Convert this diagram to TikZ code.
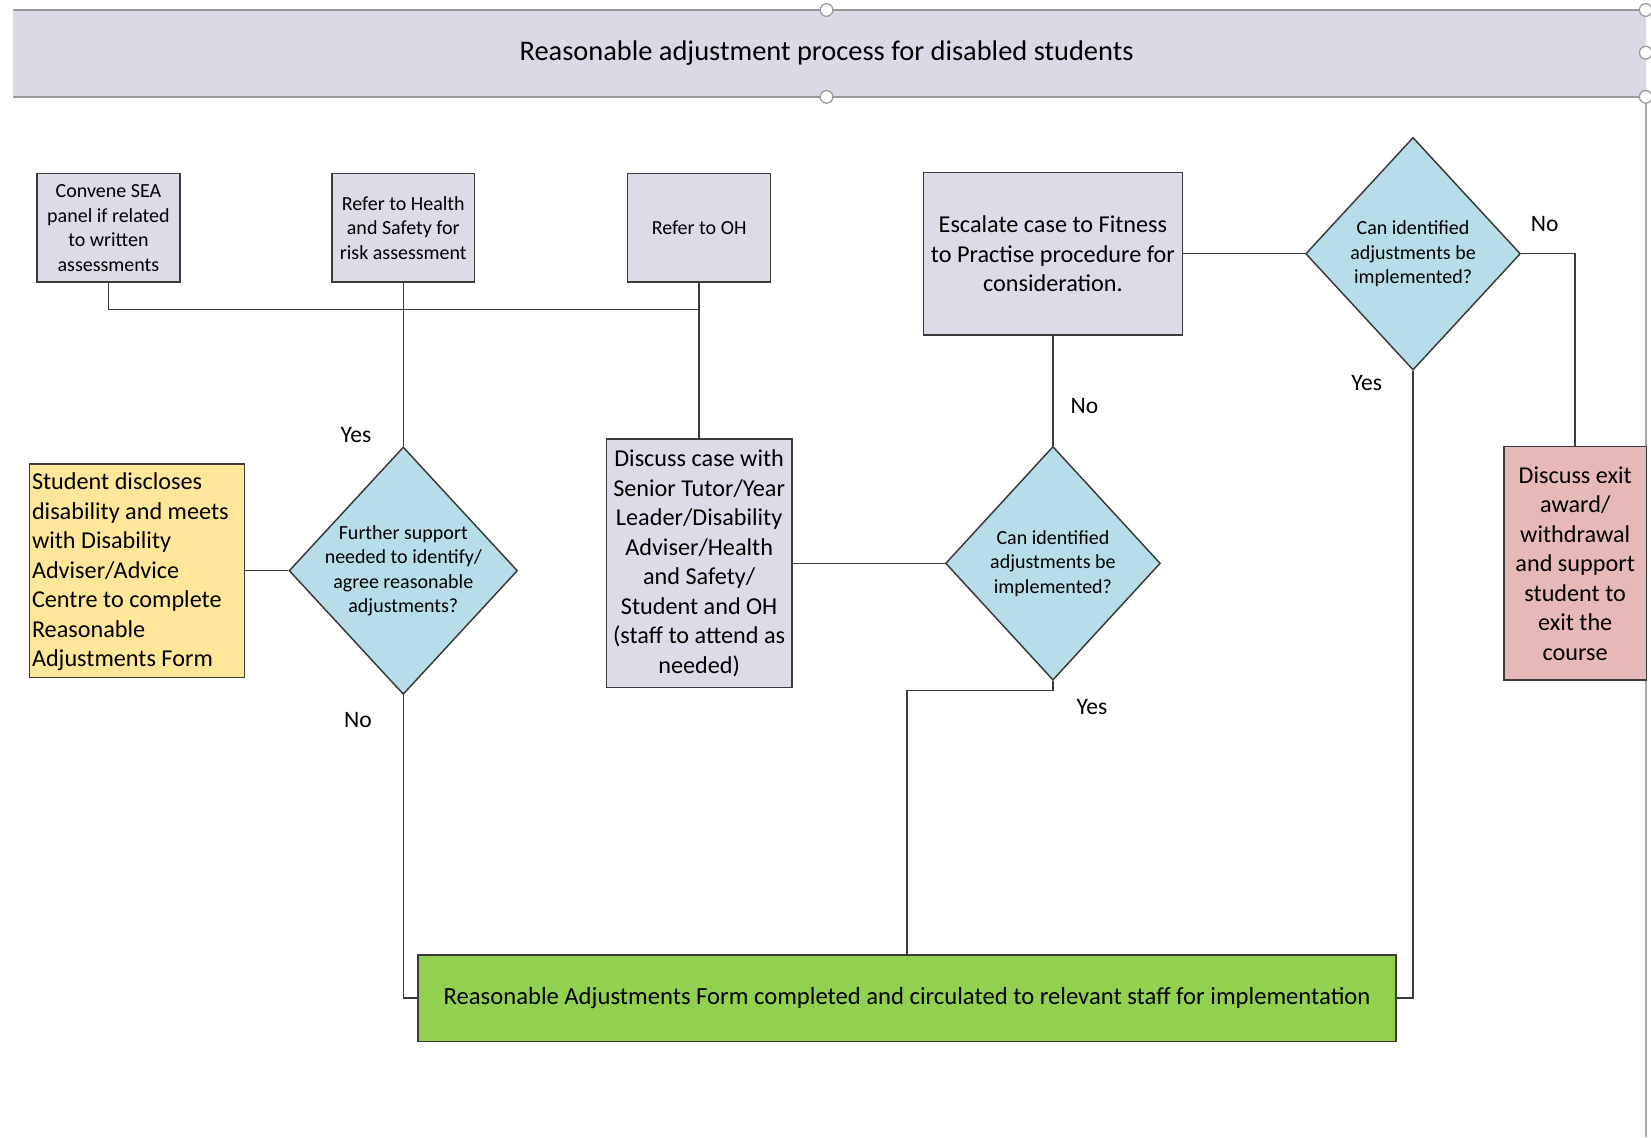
\documentclass[tikz,border=0pt]{standalone}
\usepackage{fontspec}
\setmainfont{Carlito}
\usetikzlibrary{shapes.geometric}
\definecolor{lav}{HTML}{DFDAE8}
\definecolor{hdr}{HTML}{DDD8E6}
\definecolor{aqua}{HTML}{B7DDE8}
\definecolor{pinkbox}{HTML}{E6B8B7}
\definecolor{yel}{HTML}{FFE699}
\definecolor{grn}{HTML}{92D050}
\definecolor{ln}{HTML}{3A3A3A}
\tikzset{
  box/.style={draw=ln, line width=0.7pt, rectangle, inner sep=0pt},
  dia/.style={draw=ln, line width=0.7pt, diamond, fill=aqua, inner sep=0pt},
  smalltxt/.style={align=center, font=\fontsize{9.5}{11.6}\selectfont, inner sep=0pt},
  normtxt/.style={align=center, font=\fontsize{11.5}{14}\selectfont, inner sep=0pt},
  lbl/.style={font=\fontsize{11.2}{13}\selectfont, inner sep=0pt},
  conn/.style={draw=ln, line width=0.7pt},
}
\begin{document}
\begin{tikzpicture}[x=0.5pt,y=-0.5pt]
\useasboundingbox (0,0) rectangle (1568,1080);
% header
\fill[hdr] (12.5,9.5) rectangle (1563,92);
\draw[gray!80, line width=0.9pt] (12.5,9.5) -- (1563,9.5);
\draw[gray!80, line width=0.9pt] (12.5,92) -- (1563,92);
\draw[gray!70, line width=0.8pt] (1563,92) -- (1563,1080);
\node[font=\fontsize{13.5}{16}\selectfont, inner sep=0pt] (title) at (785,50) {Reasonable adjustment process for disabled students};
\foreach \p in {(785,9.5),(785,92),(1563,9.5),(1563,50),(1563,92)}
  \draw[gray!80, fill=white, line width=0.6pt] \p circle (6);

% top boxes
\node[box, fill=lav, minimum width=68pt, minimum height=51.5pt] (convene) at (103,216.5) {};
\node[smalltxt] (conveneT) at (convene) {Convene SEA\\panel if related\\to written\\assessments};
\node[box, fill=lav, minimum width=67.5pt, minimum height=51.5pt] (hs) at (383,216.5) {};
\node[smalltxt] (hsT) at (hs) {Refer to Health\\and Safety for\\risk assessment};
\node[box, fill=lav, minimum width=68pt, minimum height=51.5pt] (oh) at (664,216.5) {};
\node[smalltxt] (ohT) at (oh) {Refer to OH};

\node[box, fill=lav, minimum width=123pt, minimum height=77pt] (esc) at (1000,241) {};
\node[normtxt] (escT) at (esc) {Escalate case to Fitness\\to Practise procedure for\\consideration.};

\node[dia, minimum width=102pt, minimum height=110.5pt] (dR) at (1342,241) {};
\node[smalltxt] (dRT) at (dR) {Can identified\\adjustments be\\implemented?};

\node[box, fill=pinkbox, minimum width=67.5pt, minimum height=111pt] (pink) at (1496,535) {};
\node[normtxt] (pinkT) at (pink) {Discuss exit\\award/\\withdrawal\\and support\\student to\\exit the\\course};

\node[box, fill=yel, minimum width=102pt, minimum height=101.5pt] (student) at (130,542) {};
\node[normtxt, align=left, anchor=west] (studentT) at (30,543) {Student discloses\\disability and meets\\with Disability\\Adviser/Advice\\Centre to complete\\Reasonable\\Adjustments Form};

\node[dia, minimum width=108.5pt, minimum height=117.5pt] (d1) at (383,542) {};
\node[smalltxt] (d1T) at (d1) {Further support\\needed to identify/\\agree reasonable\\adjustments?};

\node[box, fill=lav, minimum width=88pt, minimum height=118pt] (disc) at (664,535) {};
\node[normtxt] (discT) at (disc) {Discuss case with\\Senior Tutor/Year\\Leader/Disability\\Adviser/Health\\and Safety/\\Student and OH\\(staff to attend as\\needed)};

\node[dia, minimum width=102pt, minimum height=111pt] (d2) at (1000,535) {};
\node[smalltxt] (d2T) at (d2) {Can identified\\adjustments be\\implemented?};

\node[box, fill=grn, minimum width=464.5pt, minimum height=41pt] (green) at (861.5,948) {};
\node[normtxt, font=\fontsize{11.7}{14}\selectfont] (greenT) at (green) {Reasonable Adjustments Form completed and circulated to relevant staff for implementation};

% connectors
\coordinate (bus) at (664,294);
\coordinate (j2) at (1000,656);
\draw[conn] (convene.south) |- (bus);
\draw[conn] (hs.south) -- (d1.north);
\draw[conn] (oh.south) -- (disc.north);
\draw[conn] (student.east) -- (d1.west);
\draw[conn] (d1.south) |- (green.west);
\draw[conn] (disc.east) -- (d2.west);
\draw[conn] (d2.north) -- (esc.south);
\draw[conn] (d2.south) -- (j2) -| (green.north);
\draw[conn] (esc.east) -- (dR.west);
\draw[conn] (dR.east) -| (pink.north);
\draw[conn] (dR.south) |- (green.east);

% labels
\node[lbl] (l1) at (338,413) {Yes};
\node[lbl] (l2) at (340,684) {No};
\node[lbl] (l3) at (1030,386) {No};
\node[lbl] (l4) at (1037,671) {Yes};
\node[lbl] (l5) at (1298,364) {Yes};
\node[lbl] (l6) at (1467,213) {No};
\end{tikzpicture}
\end{document}
